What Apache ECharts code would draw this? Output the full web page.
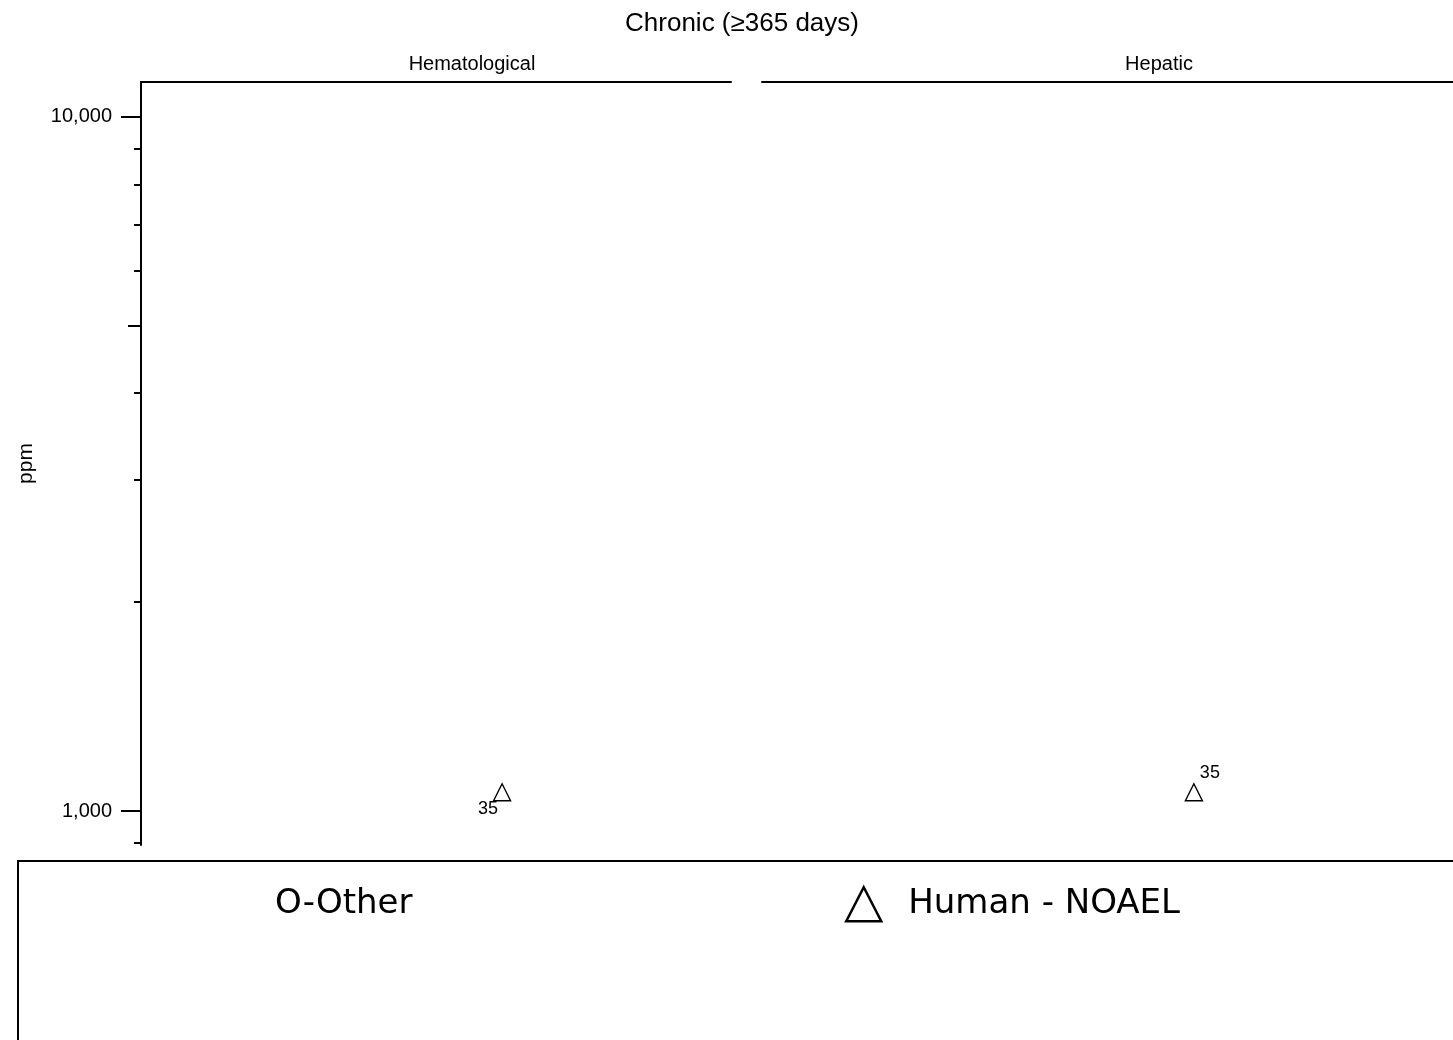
<!DOCTYPE html>
<html>
<head>
<meta charset="utf-8">
<script src="https://cdn.jsdelivr.net/npm/echarts@6/dist/echarts.min.js"></script>
<style>html,body{margin:0;padding:0;background:#fff;}#c{width:1453px;height:1040px;}</style>
</head>
<body>
<div id="c"></div>
<script>
// ---- data ----
const chartTitle = 'Chronic (\u2265365 days)';
const panels = ['Hematological', 'Hepatic'];
const pointX = [0.612, 0.625];          // horizontal (jitter) position within each panel
const ppmValues = [1065, 1065];         // ppm
const pointLabels = ['35', '35'];
const majorTicks = [1000, 10000];
const midTicks = [5000];
const minorTicks = [900, 2000, 3000, 4000, 6000, 7000, 8000, 9000];
const yMin = 894, yMax = 11230;
const legendNames = ['O-Other', 'Human - NOAEL'];

const FONT = "'Liberation Sans', Arial, Helvetica, sans-serif";
const LFONT = "'DejaVu Sans', Verdana, sans-serif";
const labelOffsets = [[-14, 17], [16, -19]];

function fmt(v) { return String(Math.round(v)).replace(/\B(?=(\d{3})+(?!\d))/g, ','); }

const chart = echarts.init(document.getElementById('c'), null, {renderer: 'canvas'});

const grids = [
  {left: 141, width: 590, top: 82, height: 763},
  {left: 762, width: 691, top: 82, height: 763}
];

const xAxes = grids.map((g, i) => ({
  gridIndex: i, type: 'value', min: 0, max: 1, position: 'top',
  axisLine: {show: true, onZero: false, lineStyle: {color: '#000', width: 2}},
  axisTick: {show: false}, axisLabel: {show: false}, splitLine: {show: false}
}));

function logAxis(gridIndex, extra) {
  return Object.assign({
    gridIndex: gridIndex, type: 'log', logBase: 10, min: yMin, max: yMax, position: 'left', offset: 0,
    axisLine: {show: false}, axisTick: {show: false}, axisLabel: {show: false},
    splitLine: {show: false}, minorTick: {show: false}, minorSplitLine: {show: false}
  }, extra);
}

const yAxes = [
  logAxis(0, {
    name: 'ppm', nameLocation: 'middle', nameRotate: 90, nameGap: 104,
    nameTextStyle: {fontFamily: FONT, fontSize: 21, color: '#000'},
    axisLine: {show: true, onZero: false, lineStyle: {color: '#000', width: 2}},
    axisTick: {show: true, customValues: majorTicks, length: 20, lineStyle: {color: '#000', width: 2}},
    axisLabel: {show: true, customValues: majorTicks, margin: 29, fontFamily: FONT, fontSize: 20, color: '#000',
      formatter: v => fmt(v)}
  }),
  logAxis(0, {axisTick: {show: true, customValues: midTicks, length: 13, lineStyle: {color: '#000', width: 2}}}),
  logAxis(0, {axisTick: {show: true, customValues: minorTicks, length: 7, lineStyle: {color: '#000', width: 2}}}),
  logAxis(1, {})
];

const series = [
  {name: legendNames[0], type: 'scatter', xAxisIndex: 0, yAxisIndex: 0, data: [], itemStyle: {color: '#000'}}
];
panels.forEach((p, i) => {
  series.push({
    name: legendNames[1], type: 'scatter', xAxisIndex: i, yAxisIndex: i === 0 ? 0 : 3,
    symbol: 'triangle', symbolSize: 17,
    itemStyle: {color: '#fff', borderColor: '#000', borderWidth: 1.4, opacity: 1},
    label: {show: true, position: 'inside', offset: labelOffsets[i], fontFamily: FONT, fontSize: 18, color: '#000',
      textBorderWidth: 0, formatter: () => pointLabels[i]},
    emphasis: {disabled: true},
    data: [[pointX[i], ppmValues[i]]]
  });
});

const option = {
  animation: false,
  backgroundColor: '#fff',
  title: [
    {text: chartTitle, left: 742, top: 11, textAlign: 'center', padding: 0,
      textStyle: {fontFamily: FONT, fontSize: 26, fontWeight: 'normal', color: '#000'}},
    {text: panels[0], left: 472, top: 54, textAlign: 'center', padding: 0,
      textStyle: {fontFamily: FONT, fontSize: 20, fontWeight: 'normal', color: '#000'}},
    {text: panels[1], left: 1159, top: 54, textAlign: 'center', padding: 0,
      textStyle: {fontFamily: FONT, fontSize: 20, fontWeight: 'normal', color: '#000'}}
  ],
  grid: grids,
  xAxis: xAxes,
  yAxis: yAxes,
  legend: [
    {data: [{name: legendNames[0], icon: 'none'}], left: 245, top: 887, padding: 0, itemWidth: 25, itemHeight: 34,
      selectedMode: false, textStyle: {fontFamily: LFONT, fontSize: 34, color: '#000'}},
    {data: [{name: legendNames[1], icon: 'triangle'}], left: 845, top: 886, padding: 0, itemWidth: 35, itemHeight: 34,
      selectedMode: false, itemStyle: {color: '#fff', borderColor: '#000', borderWidth: 2.5, opacity: 1},
      textStyle: {fontFamily: LFONT, fontSize: 34, color: '#000', padding: [0, 0, 0, 22]}}
  ],
  graphic: [
    {type: 'rect', silent: true, z: -1, shape: {x: 18, y: 861, width: 1460, height: 220},
      style: {fill: 'none', stroke: '#000', lineWidth: 2}}
  ],
  series: series
};
chart.setOption(option);
</script>
</body>
</html>
